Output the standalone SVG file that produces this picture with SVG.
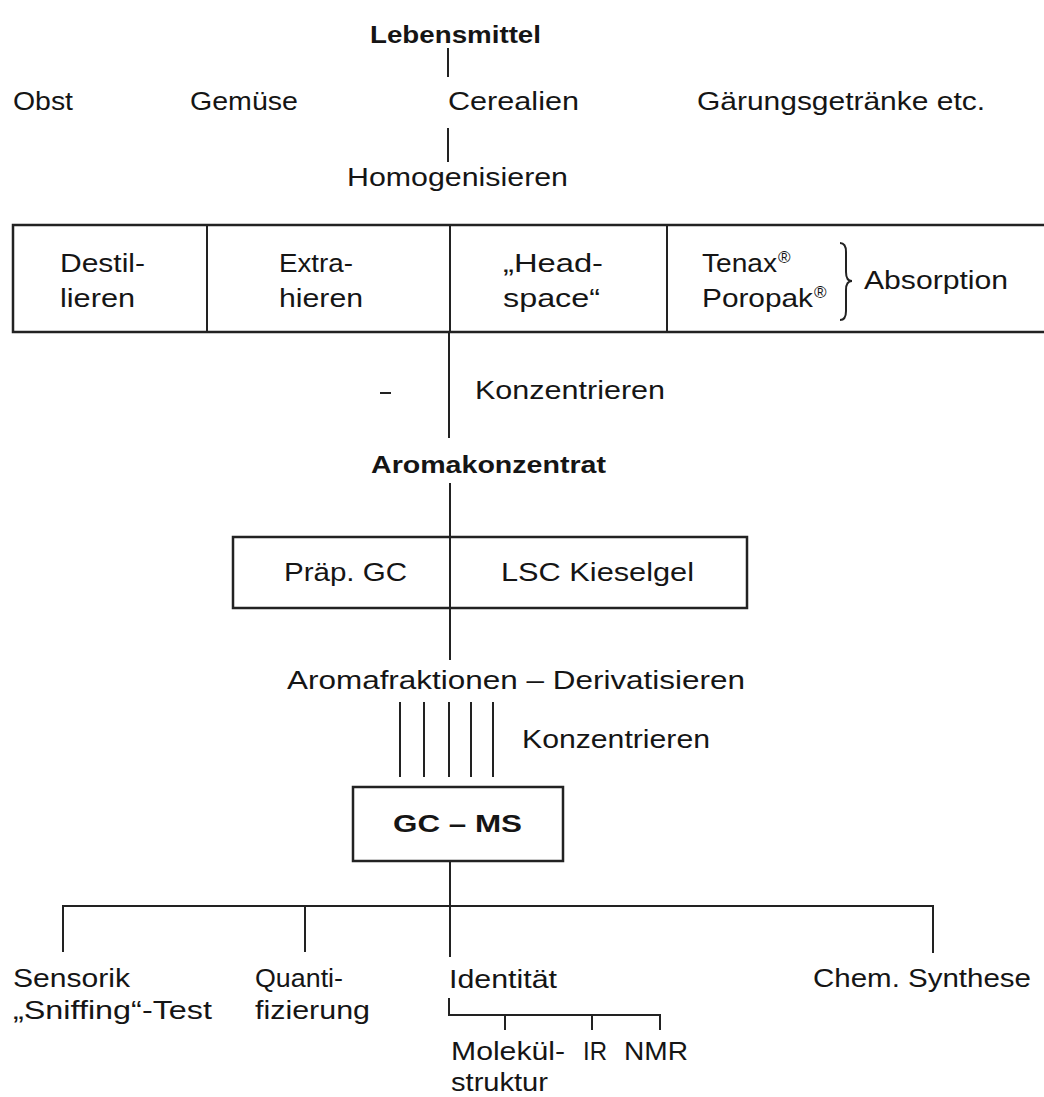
<svg xmlns="http://www.w3.org/2000/svg" width="1044" height="1097" viewBox="0 0 1044 1097">
<style>
text{font-family:"Liberation Sans",Arial,Helvetica,sans-serif;font-size:25px;fill:#151515}
.b{font-weight:bold;font-size:23px}
.sup{font-size:17px}
.ln{stroke:#222;stroke-width:2;fill:none}
.bx{stroke:#222;stroke-width:2.5;fill:none}
</style>
<rect width="1044" height="1097" fill="#fff"/>
<g id="connectors">
<line class="ln" x1="448" y1="48" x2="448" y2="77"/>
<line class="ln" x1="448" y1="128" x2="448" y2="162"/>
<line class="ln" x1="449" y1="333" x2="449" y2="438"/>
<line class="ln" x1="380" y1="393" x2="391" y2="393"/>
<line class="ln" x1="450" y1="483" x2="450" y2="537"/>
<line class="ln" x1="450" y1="608" x2="450" y2="660"/>
<line class="ln" x1="400" y1="702" x2="400" y2="777"/>
<line class="ln" x1="424" y1="702" x2="424" y2="777"/>
<line class="ln" x1="449" y1="702" x2="449" y2="777"/>
<line class="ln" x1="471" y1="702" x2="471" y2="777"/>
<line class="ln" x1="493" y1="702" x2="493" y2="777"/>
<line class="ln" x1="450" y1="861" x2="450" y2="957"/>
<line class="ln" x1="63" y1="906" x2="933" y2="906"/>
<line class="ln" x1="63" y1="905" x2="63" y2="952"/>
<line class="ln" x1="305" y1="906" x2="305" y2="952"/>
<line class="ln" x1="933" y1="905" x2="933" y2="953"/>
<polyline class="ln" points="449,998 449,1015 660,1015 660,1030"/>
<line class="ln" x1="505" y1="1015" x2="505" y2="1030"/>
<line class="ln" x1="592" y1="1015" x2="592" y2="1030"/>
</g>
<g id="lebensmittel"><text class="b" x="370" y="43" textLength="171" lengthAdjust="spacingAndGlyphs">Lebensmittel</text></g>
<g id="obst"><text x="13" y="110" textLength="60" lengthAdjust="spacingAndGlyphs">Obst</text></g>
<g id="gemuese"><text x="190" y="110" textLength="108" lengthAdjust="spacingAndGlyphs">Gemüse</text></g>
<g id="cerealien"><text x="448" y="110" textLength="131" lengthAdjust="spacingAndGlyphs">Cerealien</text></g>
<g id="gaerung"><text x="697" y="110" textLength="288" lengthAdjust="spacingAndGlyphs">Gärungsgetränke etc.</text></g>
<g id="homogenisieren"><text x="347" y="186" textLength="221" lengthAdjust="spacingAndGlyphs">Homogenisieren</text></g>
<g id="extraktion">
<path class="bx" d="M1044,225 L13,225 L13,332 L1044,332"/>
<line class="ln" x1="207" y1="225" x2="207" y2="332"/>
<line class="ln" x1="450" y1="225" x2="450" y2="332"/>
<line class="ln" x1="667" y1="225" x2="667" y2="332"/>
<text x="60" y="272" textLength="85" lengthAdjust="spacingAndGlyphs">Destil-</text>
<text x="60" y="307" textLength="75" lengthAdjust="spacingAndGlyphs">lieren</text>
<text x="279" y="272" textLength="74" lengthAdjust="spacingAndGlyphs">Extra-</text>
<text x="279" y="307" textLength="84" lengthAdjust="spacingAndGlyphs">hieren</text>
<text x="503" y="272" textLength="100" lengthAdjust="spacingAndGlyphs">„Head-</text>
<text x="503" y="307" textLength="97" lengthAdjust="spacingAndGlyphs">space“</text>
<text x="702" y="272" textLength="75" lengthAdjust="spacingAndGlyphs">Tenax</text>
<text class="sup" x="778" y="263">®</text>
<text x="702" y="307" textLength="111" lengthAdjust="spacingAndGlyphs">Poropak</text>
<text class="sup" x="814" y="298">®</text>
<path class="ln" d="M840,243 Q846,243 846,252 L846,272 Q846,281 852,281 Q846,281 846,290 L846,311 Q846,320 840,320"/>
<text x="864" y="289" textLength="144" lengthAdjust="spacingAndGlyphs">Absorption</text>
</g>
<g id="konzentrieren1"><text x="475" y="399" textLength="190" lengthAdjust="spacingAndGlyphs">Konzentrieren</text></g>
<g id="aromakonzentrat"><text class="b" x="371" y="473" textLength="235" lengthAdjust="spacingAndGlyphs">Aromakonzentrat</text></g>
<g id="trennung">
<rect class="bx" x="233" y="537" width="514" height="71"/>
<line class="ln" x1="450" y1="537" x2="450" y2="608"/>
<text x="284" y="581" textLength="123" lengthAdjust="spacingAndGlyphs">Präp. GC</text>
<text x="501" y="581" textLength="193" lengthAdjust="spacingAndGlyphs">LSC Kieselgel</text>
</g>
<g id="aromafraktionen"><text x="287" y="689" textLength="458" lengthAdjust="spacingAndGlyphs">Aromafraktionen – Derivatisieren</text></g>
<g id="konzentrieren2"><text x="522" y="748" textLength="188" lengthAdjust="spacingAndGlyphs">Konzentrieren</text></g>
<g id="gcms">
<rect class="bx" x="353" y="787" width="210" height="74"/>
<text class="b" x="393" y="832" textLength="129" lengthAdjust="spacingAndGlyphs">GC – MS</text>
</g>
<g id="sensorik">
<text x="13" y="987" textLength="117" lengthAdjust="spacingAndGlyphs">Sensorik</text>
<text x="13" y="1019" textLength="199" lengthAdjust="spacingAndGlyphs">„Sniffing“-Test</text>
</g>
<g id="quantifizierung">
<text x="255" y="987" textLength="88" lengthAdjust="spacingAndGlyphs">Quanti-</text>
<text x="255" y="1019" textLength="115" lengthAdjust="spacingAndGlyphs">fizierung</text>
</g>
<g id="identitaet"><text x="449" y="988" textLength="108" lengthAdjust="spacingAndGlyphs">Identität</text></g>
<g id="synthese"><text x="813" y="987" textLength="218" lengthAdjust="spacingAndGlyphs">Chem. Synthese</text></g>
<g id="molekuel">
<text x="451" y="1060" textLength="114" lengthAdjust="spacingAndGlyphs">Molekül-</text>
<text x="451" y="1091" textLength="97" lengthAdjust="spacingAndGlyphs">struktur</text>
</g>
<g id="ir"><text x="583" y="1060" textLength="24" lengthAdjust="spacingAndGlyphs">IR</text></g>
<g id="nmr"><text x="624" y="1060" textLength="64" lengthAdjust="spacingAndGlyphs">NMR</text></g>
</svg>
